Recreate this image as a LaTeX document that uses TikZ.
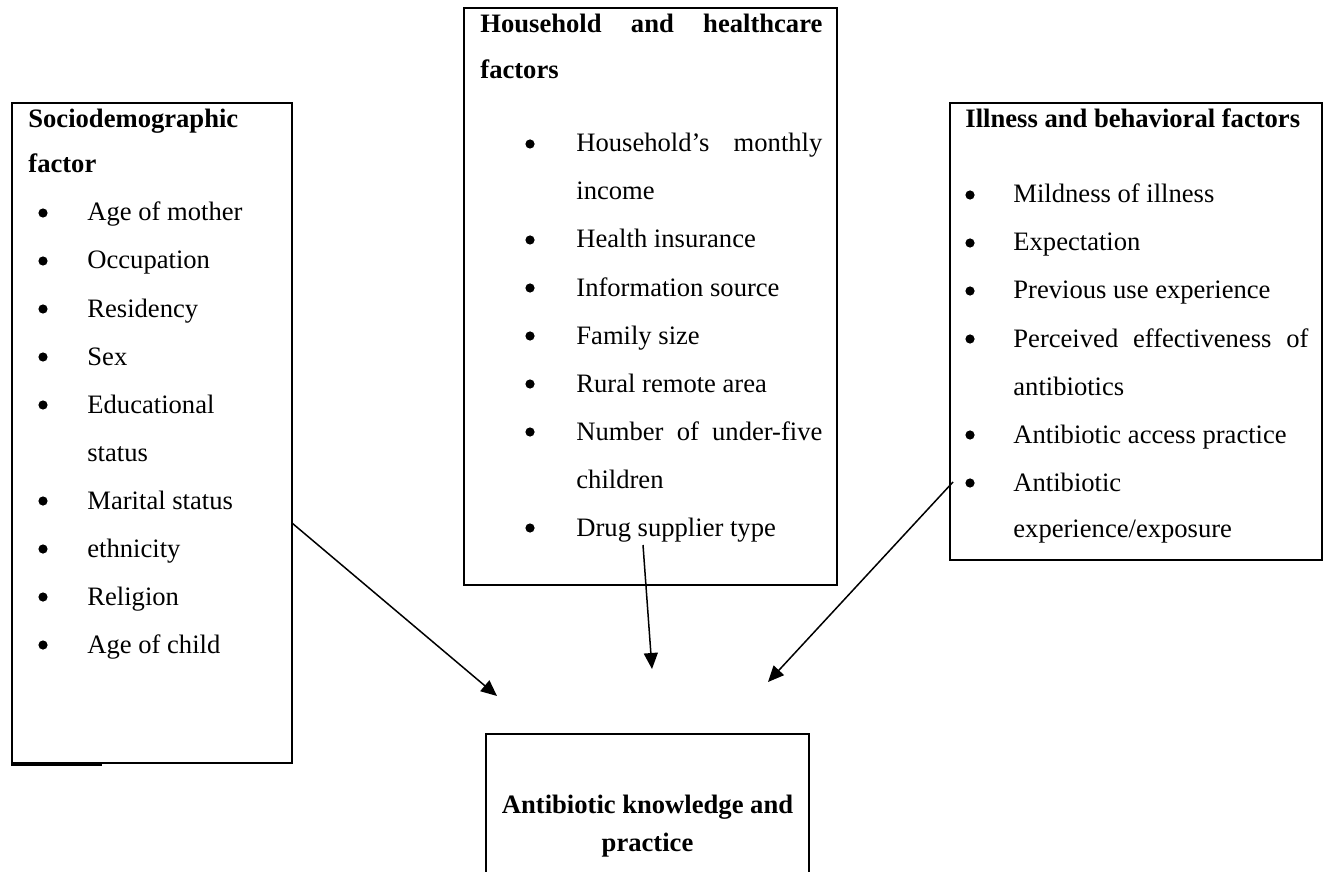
\documentclass[tikz,border=0pt]{standalone}
\usepackage{fontspec}
\setmainfont{Liberation Serif}
\usetikzlibrary{arrows.meta}

\begin{document}
\begin{tikzpicture}[x=0.5pt, y=-0.5pt,
    factorbox/.style={draw=black, line width=1pt, inner sep=0pt},
    headtext/.style={anchor=base west, inner sep=0pt, font=\fontsize{13.3pt}{16pt}\selectfont\bfseries},
    itemtext/.style={anchor=base west, inner sep=0pt, font=\fontsize{13.3pt}{16pt}\selectfont},
    bulletmark/.style={circle, fill=black, inner sep=0pt, minimum size=4.6pt},
    influence/.style={draw=black, line width=0.75pt, -{Triangle[length=8pt, width=7pt]}}]
    \useasboundingbox (0,0) rectangle (1325,871);
    % sociodemographic factors
    \node (socio) [factorbox, minimum width=140pt, minimum height=330pt] at (152,433) {};
    \draw [line width=1.6pt] (socio.south west) -- ++(91,0);
    \node (sociohead1) [headtext] at (28,128) {Sociodemographic};
    \node (sociohead2) [headtext] at (28,173) {factor};
    \node (sb1) [bulletmark] at (43,213) {};
    \node (si1) [itemtext] at (87,221) {Age of mother};
    \node (sb2) [bulletmark] at (43,261) {};
    \node (si2) [itemtext] at (87,269) {Occupation};
    \node (sb3) [bulletmark] at (43,309) {};
    \node (si3) [itemtext] at (87,317) {Residency};
    \node (sb4) [bulletmark] at (43,357) {};
    \node (si4) [itemtext] at (87,365) {Sex};
    \node (sb5) [bulletmark] at (43,405) {};
    \node (si5) [itemtext] at (87,413) {Educational};
    \node (si5b) [itemtext] at (87,461) {status};
    \node (sb6) [bulletmark] at (43,501) {};
    \node (si6) [itemtext] at (87,509) {Marital status};
    \node (sb7) [bulletmark] at (43,549) {};
    \node (si7) [itemtext] at (87,557) {ethnicity};
    \node (sb8) [bulletmark] at (43,597) {};
    \node (si8) [itemtext] at (87,605) {Religion};
    \node (sb9) [bulletmark] at (43,645) {};
    \node (si9) [itemtext] at (87,653) {Age of child};
    % household and healthcare factors
    \node (house) [factorbox, minimum width=186.5pt, minimum height=288.5pt] at (650.5,296.5) {};
    \node (househead1) [headtext] at (480,33) {\makebox[171pt][s]{Household and healthcare}};
    \node (househead2) [headtext] at (480,79) {factors};
    \node (hb1) [bulletmark] at (530,144) {};
    \node (hi1) [itemtext] at (576,152) {\makebox[123pt][s]{Household’s monthly}};
    \node (hi1b) [itemtext] at (576,200) {income};
    \node (hb2) [bulletmark] at (530,240) {};
    \node (hi2) [itemtext] at (576,248) {Health insurance};
    \node (hb3) [bulletmark] at (530,288) {};
    \node (hi3) [itemtext] at (576,296) {Information source};
    \node (hb4) [bulletmark] at (530,336) {};
    \node (hi4) [itemtext] at (576,344) {Family size};
    \node (hb5) [bulletmark] at (530,384) {};
    \node (hi5) [itemtext] at (576,392) {Rural remote area};
    \node (hb6) [bulletmark] at (530,432) {};
    \node (hi6) [itemtext] at (576,440) {\makebox[123pt][s]{Number of under-five}};
    \node (hi6b) [itemtext] at (576,488) {children};
    \node (hb7) [bulletmark] at (530,528) {};
    \node (hi7) [itemtext] at (576,536) {Drug supplier type};
    % illness and behavioral factors
    \node (illness) [factorbox, minimum width=186pt, minimum height=228.5pt] at (1136,331.5) {};
    \node (illhead) [headtext] at (965,128) {Illness and behavioral factors};
    \node (ib1) [bulletmark] at (970,195) {};
    \node (ii1) [itemtext] at (1013,203) {Mildness of illness};
    \node (ib2) [bulletmark] at (970,243) {};
    \node (ii2) [itemtext] at (1013,251) {Expectation};
    \node (ib3) [bulletmark] at (970,291) {};
    \node (ii3) [itemtext] at (1013,299) {Previous use experience};
    \node (ib4) [bulletmark] at (970,339) {};
    \node (ii4) [itemtext] at (1013,347) {\makebox[147.5pt][s]{Perceived effectiveness of}};
    \node (ii4b) [itemtext] at (1013,395) {antibiotics};
    \node (ib5) [bulletmark] at (970,435) {};
    \node (ii5) [itemtext] at (1013,443) {Antibiotic access practice};
    \node (ib6) [bulletmark] at (970,483) {};
    \node (ii6) [itemtext] at (1013,491) {Antibiotic};
    \node (ii6b) [itemtext] at (1013,537) {experience/exposure};
    % outcome
    \node (outcome) [factorbox, minimum width=161.5pt, minimum height=78pt] at (647.5,812) {};
    \node (outtext1) [headtext, anchor=base] at (647.5,813) {Antibiotic knowledge and};
    \node (outtext2) [headtext, anchor=base] at (647.5,851) {practice};
    % arrows
    \coordinate (socioout) at (292,523);
    \coordinate (sociotip) at (497,696);
    \coordinate (houseout) at (643,545);
    \coordinate (housetip) at (652,669);
    \coordinate (illout) at (953,482);
    \coordinate (illtip) at (768,682);
    \draw [influence] (socioout) -- (sociotip);
    \draw [influence] (houseout) -- (housetip);
    \draw [influence] (illout) -- (illtip);
\end{tikzpicture}
\end{document}
